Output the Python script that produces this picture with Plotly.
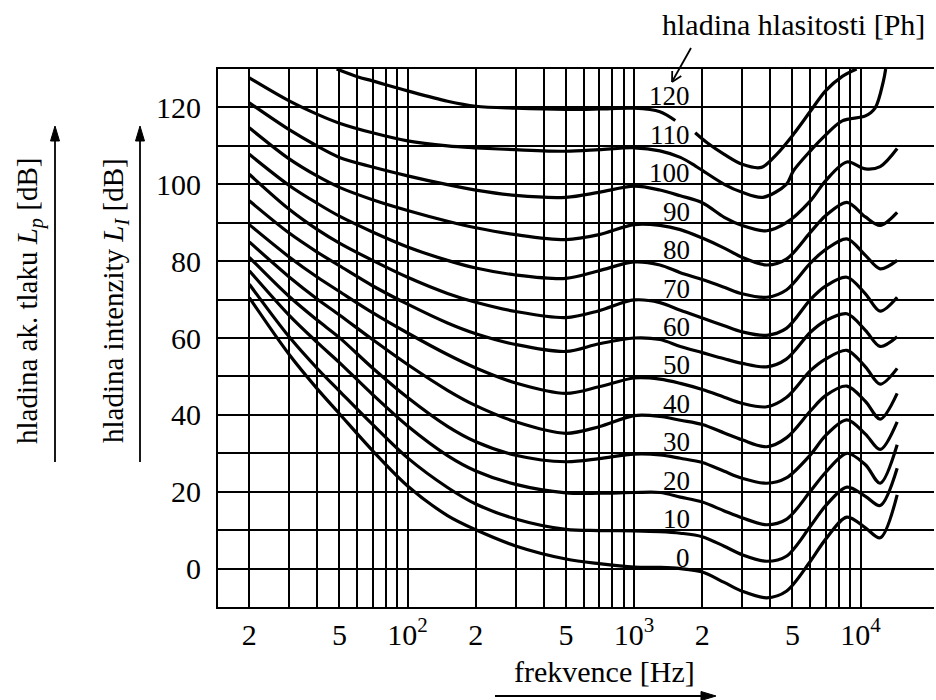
import math
import plotly.graph_objects as go

# Equal-loudness contours (hladiny hlasitosti) 0 ... 120 Ph
PHON = [0, 10, 20, 30, 40, 50, 60, 70, 80, 90, 100, 110, 120]

# common frequency grid [Hz] for the 0 ... 100 Ph contours
FREQ = [20, 30, 40, 50, 70, 100, 150, 200, 300, 500, 700, 1000, 1300, 1600,
        2000, 2500, 3000, 3850, 4700, 6000, 7000, 8700, 10500, 12200, 14500]

L0 = [70.5, 55.7, 46.7, 40.3, 30.7, 21.5, 13.8, 10.1, 5.9, 2.5, 1.3, 0.4, 0.3, 0.0,
      -0.9, -3.6, -5.9, -7.6, -5.9, 1.9, 7.6, 13.4, 10.6, 8.0, 19.2]
L10 = [74.0, 60.3, 52.0, 46.2, 37.5, 28.8, 21.1, 16.8, 12.9, 10.2, 9.9, 9.8, 9.6, 9.2,
       8.3, 5.8, 3.6, 1.9, 3.2, 11.0, 16.3, 21.2, 18.8, 16.4, 26.1]
L20 = [77.5, 65.9, 58.8, 53.6, 45.3, 37.1, 29.4, 25.4, 21.9, 19.7, 19.6, 19.8, 19.8, 18.6,
       17.3, 15.0, 13.2, 11.4, 12.8, 20.1, 25.0, 30.0, 27.0, 22.2, 32.2]
L30 = [81.0, 70.8, 64.6, 60.1, 52.2, 44.5, 37.0, 33.0, 29.5, 27.8, 28.6, 29.8, 29.6, 28.7,
       27.6, 25.3, 23.5, 22.2, 23.6, 29.6, 34.6, 38.7, 35.0, 31.0, 38.2]
L40 = [85.0, 75.9, 70.1, 66.0, 59.6, 53.1, 46.4, 42.4, 38.2, 35.2, 36.9, 39.8, 39.6, 38.6,
       37.5, 35.3, 33.5, 31.7, 34.0, 41.0, 45.0, 47.5, 43.5, 38.9, 45.6]
L50 = [89.5, 81.1, 75.8, 72.1, 66.6, 61.3, 55.7, 52.2, 48.3, 45.6, 47.3, 49.6, 49.3, 48.2,
       46.6, 44.6, 43.0, 42.1, 44.5, 51.5, 54.5, 56.8, 52.5, 48.0, 52.1]
L60 = [95.7, 87.3, 82.3, 78.8, 73.6, 68.8, 63.9, 61.1, 58.3, 56.5, 58.5, 60.0, 59.6, 57.8,
       56.2, 54.6, 53.4, 52.5, 54.5, 61.5, 64.5, 66.3, 62.0, 57.8, 60.3]
L70 = [102.6, 93.5, 88.2, 84.7, 80.2, 75.8, 71.6, 69.3, 66.9, 65.3, 67.1, 69.9, 69.2, 67.2,
       65.2, 63.2, 61.6, 60.7, 62.5, 70.0, 73.5, 75.8, 71.5, 67.0, 70.6]
L80 = [107.8, 99.7, 95.0, 91.7, 87.6, 83.7, 80.2, 78.2, 76.4, 75.5, 77.5, 79.8, 79.0, 77.0,
       75.2, 73.2, 71.5, 70.6, 72.5, 79.5, 83.0, 85.8, 81.5, 78.0, 80.2]
L90 = [114.7, 106.6, 102.1, 99.2, 96.0, 93.2, 90.4, 88.7, 86.9, 85.6, 86.9, 89.5, 89.3, 88.2,
       86.0, 83.4, 81.0, 79.0, 80.5, 87.5, 91.8, 95.3, 91.5, 89.3, 92.7]
L100 = [121.2, 114.2, 109.9, 107.0, 104.5, 102.2, 99.9, 98.5, 97.1, 96.6, 97.9, 99.5, 98.5, 97.0,
        95.2, 91.4, 89.3, 87.9, 90.0, 95.7, 100.9, 105.8, 104.0, 104.6, 109.3]

# the two loudest contours leave the chart through its top edge
F110 = [20, 30, 40, 50, 70, 100, 150, 200, 300, 500, 700, 1000, 1300, 1600, 1860,
        2000, 2500, 3000, 3700, 4700, 5050, 6000, 7000, 8300, 10500, 11600, 12600, 12900]
L110 = [127.7, 121.7, 118.2, 115.9, 113.4, 111.3, 110.0, 109.5, 109.0, 108.6, 109.0, 109.5, 108.7, 107.0, 104.8,
        103.6, 100.0, 97.9, 96.6, 100.0, 103.5, 108.7, 112.8, 116.5, 117.8, 119.9, 126.8, 130.0]

F120 = [48.6, 60, 70, 100, 150, 200, 300, 500, 700, 1000, 1300, 1520, 1700,
        1860, 2100, 2500, 3000, 3650, 4260, 5050, 6000, 7000, 8300, 9600]
L120 = [130.0, 128.0, 126.9, 124.3, 121.6, 120.3, 119.8, 119.5, 119.6, 119.8, 118.9, 116.6, None,
        113.4, 110.8, 107.8, 105.2, 104.4, 107.8, 113.0, 119.0, 124.3, 128.1, 130.0]

CURVES = [(FREQ, L0), (FREQ, L10), (FREQ, L20), (FREQ, L30), (FREQ, L40), (FREQ, L50),
          (FREQ, L60), (FREQ, L70), (FREQ, L80), (FREQ, L90), (FREQ, L100),
          (F110, L110), (F120, L120)]

# axis ticks
X_TICKS = [20, 50, 100, 200, 500, 1000, 2000, 5000, 10000]
X_TICKTEXT = ["2", "5", "10<sup>2</sup>", "2", "5", "10<sup>3</sup>", "2", "5", "10<sup>4</sup>"]
X_MINOR = [30, 40, 60, 70, 80, 90, 300, 400, 600, 700, 800, 900,
           3000, 4000, 6000, 7000, 8000, 9000]
Y_TICKS = [0, 20, 40, 60, 80, 100, 120]
Y_MINOR = [10, 30, 50, 70, 90, 110]

LABEL_FREQ = 1800  # right edge of the contour labels

FONT = "Liberation Serif, Times New Roman, serif"
W, H = 936, 700
ML, MR, MT, MB = 218, 2, 69, 93
PW, PH = W - ML - MR, H - MT - MB


def px(xp):
    """pixel column -> paper x"""
    return (xp - ML) / PW


def py(yp):
    """pixel row -> paper y"""
    return (H - MB - yp) / PH


def seg(x0, y0, x1, y1, width=1.8):
    return dict(type="line", xref="paper", yref="paper",
                x0=px(x0), y0=py(y0), x1=px(x1), y1=py(y1),
                line=dict(color="black", width=width), layer="above")


def filled_head(tip_x, tip_y, dx, dy, length=14, half=4.5):
    """solid arrow head with its tip at (tip_x, tip_y), pointing along (dx, dy)"""
    n = math.hypot(dx, dy)
    ux, uy = dx / n, dy / n
    bx, by = tip_x - ux * length, tip_y - uy * length
    p1 = (bx - uy * half, by + ux * half)
    p2 = (bx + uy * half, by - ux * half)
    path = "M {},{} L {},{} L {},{} Z".format(px(tip_x), py(tip_y), px(p1[0]), py(p1[1]),
                                              px(p2[0]), py(p2[1]))
    return dict(type="path", xref="paper", yref="paper", path=path,
                fillcolor="black", line=dict(color="black", width=1), layer="above")


def open_head(tip_x, tip_y, dx, dy, length=11, angle=28):
    """two-stroke pen arrow head"""
    n = math.hypot(dx, dy)
    bx, by = -dx / n * length, -dy / n * length
    out = []
    for a in (angle, -angle):
        r = math.radians(a)
        ex = bx * math.cos(r) - by * math.sin(r)
        ey = bx * math.sin(r) + by * math.cos(r)
        out.append(seg(tip_x, tip_y, tip_x + ex, tip_y + ey, width=1.8))
    return out


fig = go.Figure()
for f, lv in CURVES:
    fig.add_trace(go.Scatter(
        x=f, y=lv, mode="lines", connectgaps=False, hoverinfo="skip", showlegend=False,
        line=dict(color="black", width=3.2, shape="spline", smoothing=0.9),
    ))

ann = []
for n in PHON:
    ann.append(dict(x=math.log10(LABEL_FREQ), y=n, xref="x", yref="y", text=str(n),
                    showarrow=False, xanchor="right", yanchor="bottom", yshift=-6,
                    font=dict(family=FONT, size=27, color="black")))

ann.append(dict(x=px(793), y=py(24), xref="paper", yref="paper",
                text="hladina hlasitosti [Ph]", showarrow=False,
                xanchor="center", yanchor="middle",
                font=dict(family=FONT, size=30, color="black")))
ann.append(dict(x=px(29), y=py(301), xref="paper", yref="paper", textangle=-90,
                text="hladina ak. tlaku <i>L</i><sub><i>p</i></sub> [dB]", showarrow=False,
                xanchor="center", yanchor="middle",
                font=dict(family=FONT, size=29, color="black")))
ann.append(dict(x=px(115), y=py(301), xref="paper", yref="paper", textangle=-90,
                text="hladina intenzity <i>L</i><sub><i>I</i></sub> [dB]", showarrow=False,
                xanchor="center", yanchor="middle",
                font=dict(family=FONT, size=29, color="black")))
ann.append(dict(x=px(604), y=py(671), xref="paper", yref="paper",
                text="frekvence [Hz]", showarrow=False,
                xanchor="center", yanchor="middle",
                font=dict(family=FONT, size=30, color="black")))

shapes = []
# pointer from the caption to the 120 Ph label
shapes.append(seg(691, 48, 673, 80))
shapes += open_head(672, 82, -19, 34)
# upward arrows beside the vertical captions
for xa in (55, 140):
    shapes.append(seg(xa, 462, xa, 138, width=1.8))
    shapes.append(filled_head(xa, 126, 0, -1, length=15, half=4.5))
# rightward arrow under the frequency caption
shapes.append(seg(495, 696, 704, 696, width=2.2))
shapes.append(filled_head(716, 696, 1, 0, length=15, half=4.5))

grid = dict(showgrid=True, gridcolor="black", gridwidth=1.5)
fig.update_layout(
    width=W, height=H,
    margin=dict(l=ML, r=MR, t=MT, b=MB, pad=0),
    paper_bgcolor="white", plot_bgcolor="white",
    font=dict(family=FONT, color="black"),
    showlegend=False,
    annotations=ann,
    shapes=shapes,
    xaxis=dict(
        type="log",
        range=[math.log10(20) - 31.3 / 226.5, math.log10(20) - 31.3 / 226.5 + PW / 226.5],
        tickmode="array", tickvals=X_TICKS, ticktext=X_TICKTEXT,
        tickfont=dict(family=FONT, size=30, color="black"),
        ticks="", ticklabelstandoff=0,
        showline=True, linecolor="black", linewidth=2, mirror=True,
        zeroline=False, automargin=False,
        minor=dict(tickmode="array", tickvals=X_MINOR, ticks="", **grid),
        **grid,
    ),
    yaxis=dict(
        range=[-10, 130],
        tickmode="array", tickvals=Y_TICKS,
        tickfont=dict(family=FONT, size=30, color="black"),
        ticks="", ticklabelstandoff=9,
        showline=True, linecolor="black", linewidth=2, mirror=False,
        zeroline=False, automargin=False,
        minor=dict(tickmode="array", tickvals=Y_MINOR, ticks="", **grid),
        **grid,
    ),
)

fig.write_html("out.html", config={"displayModeBar": False})
